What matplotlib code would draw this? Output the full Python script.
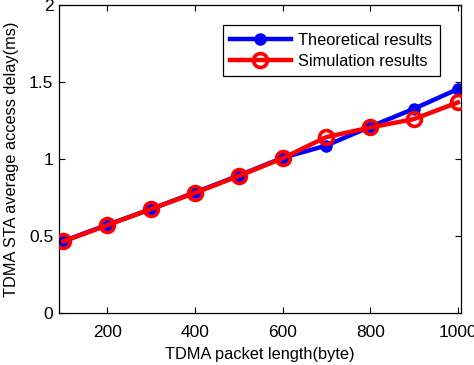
import numpy as np
import matplotlib
matplotlib.use('Agg')
import matplotlib.pyplot as plt

packet_len = [100, 200, 300, 400, 500, 600, 700, 800, 900, 1000]
theoretical = [0.467, 0.573, 0.675, 0.783, 0.893, 1.008, 1.088, 1.21, 1.327, 1.455]
simulation = [0.465, 0.570, 0.675, 0.780, 0.890, 1.005, 1.143, 1.205, 1.260, 1.368]
x_ticks = [200, 400, 600, 800, 1000]
y_ticks = [0, 0.5, 1, 1.5, 2]

plt.rcParams['font.family'] = ['Liberation Sans', 'DejaVu Sans']

fig = plt.figure(figsize=(4.74, 3.65), dpi=100)
ax = fig.add_axes([0.1245, 0.1425, 0.848, 0.8435])

ax.plot(packet_len, theoretical, color='#0000ff', linewidth=3.2, marker='o',
        markersize=8, markerfacecolor='#0000ff', markeredgecolor='#0000ff',
        label='Theoretical results', zorder=2)
ax.plot(packet_len, simulation, color='#ff0000', linewidth=3.2, marker='o',
        markersize=10, markerfacecolor='none', markeredgecolor='#ff0000',
        markeredgewidth=2.6, label='Simulation results', zorder=3)

ax.set_xlim(90, 1007)
ax.set_ylim(0, 2)
ax.set_xticks(x_ticks)
ax.set_yticks(y_ticks)
ax.set_yticklabels(['0', '0.5', '1', '1.5', '2'])
ax.tick_params(axis='both', direction='in', length=4, width=0.8, labelsize=12.5,
               top=True, right=True)
ax.tick_params(axis='x', pad=9)
ax.tick_params(axis='y', pad=4)
for s in ax.spines.values():
    s.set_linewidth(0.9)

ax.set_xlabel('TDMA packet length(byte)', fontsize=11.8, labelpad=5)
ax.set_ylabel('TDMA STA average access delay(ms)', fontsize=11.8, labelpad=7)

leg = ax.legend(loc='upper right', bbox_to_anchor=(0.947, 0.934), fontsize=11.8,
                handlelength=3.7, borderaxespad=0, fancybox=False,
                framealpha=1, edgecolor='black', borderpad=0.45,
                labelspacing=0.35, handletextpad=0.45)
leg.get_frame().set_linewidth(0.9)

fig.savefig('out.png', dpi=100)
